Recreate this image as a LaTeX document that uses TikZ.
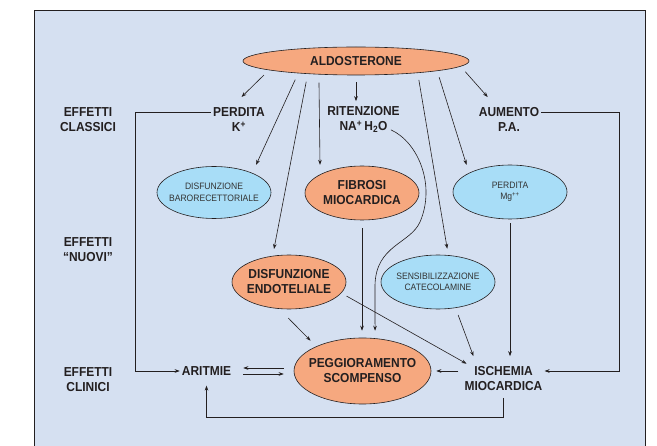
\documentclass[tikz,border=0pt]{standalone}
\usepackage{fontspec}
\setmainfont{Liberation Sans}[FakeStretch=0.92]
\usepackage{tikz}
\usetikzlibrary{shapes.geometric,arrows.meta}
\definecolor{sfondo}{RGB}{213,224,241}
\definecolor{salmone}{RGB}{246,168,127}
\definecolor{celeste}{RGB}{168,221,247}
\definecolor{tratto}{RGB}{35,31,32}

\begin{document}
\begin{tikzpicture}[x=1pt, y=-1pt,
        font=\fontsize{13}{15}\selectfont\bfseries, text=tratto,
        testo/.style={align=center, inner sep=2pt},
        ovale/.style={ellipse, draw=tratto, line width=0.6pt, align=center, inner xsep=-8pt, inner ysep=0pt},
        nodoarancio/.style={ovale, fill=salmone, minimum width=114, minimum height=54},
        nodoazzurro/.style={ovale, fill=celeste, minimum width=114, minimum height=54,
                            font=\fontsize{9.3}{11.5}\selectfont\mdseries, text=black!80},
        freccia/.style={-{Stealth[length=5pt, width=3.6pt]}, line width=0.6pt, draw=tratto},
        doppia/.style={freccia, shorten <=10pt, shorten >=10pt}]

        \useasboundingbox (0,0) rectangle (657,446);
        \fill [sfondo] (34,11) rectangle (645,446);                              %fondo
        \draw [line width=1pt, tratto] (34,446) -- (34,11) -- (645,11) -- (645,446);

        \node [nodoarancio, minimum width=226, minimum height=28] (aldo) at (356,61) {ALDOSTERONE};
        \node [testo] (classici) at (88,120)     {EFFETTI\\CLASSICI};            %
        \node [testo] (perditaK) at (239,119.5)  {PERDITA\\K\textsuperscript{+}};
        \node [testo] (riten)    at (363.5,119.5) {RITENZIONE\\NA\textsuperscript{+}\,H\textsubscript{2}O};
        \node [testo] (aumento)  at (509,119.5)  {AUMENTO\\P.A.};                %

        \node [nodoazzurro, minimum height=52] (baro) at (214,192.5) {DISFUNZIONE\\BARORECETTORIALE};
        \node [nodoarancio] (fibrosi) at (362,193) {FIBROSI\\MIOCARDICA};        %
        \node [nodoazzurro] (mg)      at (510,192) {PERDITA\\Mg\textsuperscript{++}};

        \node [testo] (nuovi) at (88,250)        {EFFETTI\\“NUOVI”};             %
        \node [nodoarancio] (endo)    at (289,282) {DISFUNZIONE\\ENDOTELIALE};   %
        \node [nodoazzurro] (sens)    at (438,282) {SENSIBILIZZAZIONE\\CATECOLAMINE};

        \node [nodoarancio, minimum width=137, minimum height=66] (pegg) at (362.5,371) {PEGGIORAMENTO\\SCOMPENSO};
        \node [testo] (aritmie)  at (206.5,371)  {ARITMIE};                      %
        \node [testo] (ischemia) at (503.5,378.5) {ISCHEMIA\\MIOCARDICA};        %
        \node [testo] (clinici)  at (88,380)     {EFFETTI\\CLINICI};             %

        \coordinate (angoloK) at (135,371);
        \coordinate (angoloA) at (619,371);
        \coordinate (fondo)   at (0,417);

        %effetti di aldosterone
        \draw [freccia, shorten <=7pt, shorten >=12pt]    (aldo.186) -- ([xshift=-6pt]perditaK.north);
        \draw [freccia, shorten <=7pt, shorten >=9pt]     (aldo.192) -- (baro.27);
        \draw [freccia, shorten <=8pt, shorten >=7pt]     (aldo.195) -- (endo.122);
        \draw [freccia, shorten <=8pt, shorten >=9.5pt]   (aldo.200) -- (fibrosi.156);
        \draw [freccia, shorten <=7pt, shorten >=3pt]     (aldo.south) -- (aldo.south |- riten.north);
        \draw [freccia, shorten <=7pt, shorten >=6.5pt]   (aldo.349) -- (sens.69);
        \draw [freccia, shorten <=6.5pt, shorten >=8.5pt] (aldo.353) -- (mg.155);
        \draw [freccia, shorten <=7pt, shorten >=11pt]    (aldo.357) -- ([xshift=-14pt]aumento.north);

        %linee laterali
        \draw [freccia] ([yshift=7.5pt]perditaK.west) -| (angoloK) -- (aritmie.west);
        \draw [freccia] ([yshift=7.5pt]aumento.east) -| (angoloA) -- ([yshift=7.5pt]ischemia.east);

        \draw [freccia, shorten >=7.5pt] ([shift={(-11pt,5pt)}]riten.south east)
              .. controls (418,142) and (436,185) .. (420,222)
              .. controls (410,244) and (376,245) .. (375,285) -- (pegg.69);
        \draw [freccia, shorten <=8pt, shorten >=7pt]     (fibrosi.south) -- (fibrosi.south |- pegg.north);
        \draw [freccia, shorten <=13pt, shorten >=8pt]    (endo.250) -- (pegg.152);
        \draw [freccia, shorten <=6pt, shorten >=1pt]     (endo.348) -- ([xshift=5pt]ischemia.north west);
        \draw [freccia, shorten <=7.5pt, shorten >=8.5pt] (sens.304) -- ([xshift=14pt]ischemia.north west);
        \draw [freccia, shorten <=4pt, shorten >=8pt]     (mg.south) -- (mg.south |- ischemia.north);

        %effetti clinici
        \draw [doppia] ([yshift=3pt]pegg.west) -- ([yshift=3pt]aritmie.east);
        \draw [doppia] ([yshift=-3pt]aritmie.east) -- ([yshift=-3pt]pegg.west);
        \draw [freccia, shorten <=4pt, shorten >=5pt]     ([yshift=7.5pt]ischemia.west) -- (pegg.east);
        \draw [freccia, shorten <=5pt, shorten >=8pt]     (ischemia.south) -- (ischemia.south |- fondo) -| (aritmie.south);
\end{tikzpicture}
\end{document}
